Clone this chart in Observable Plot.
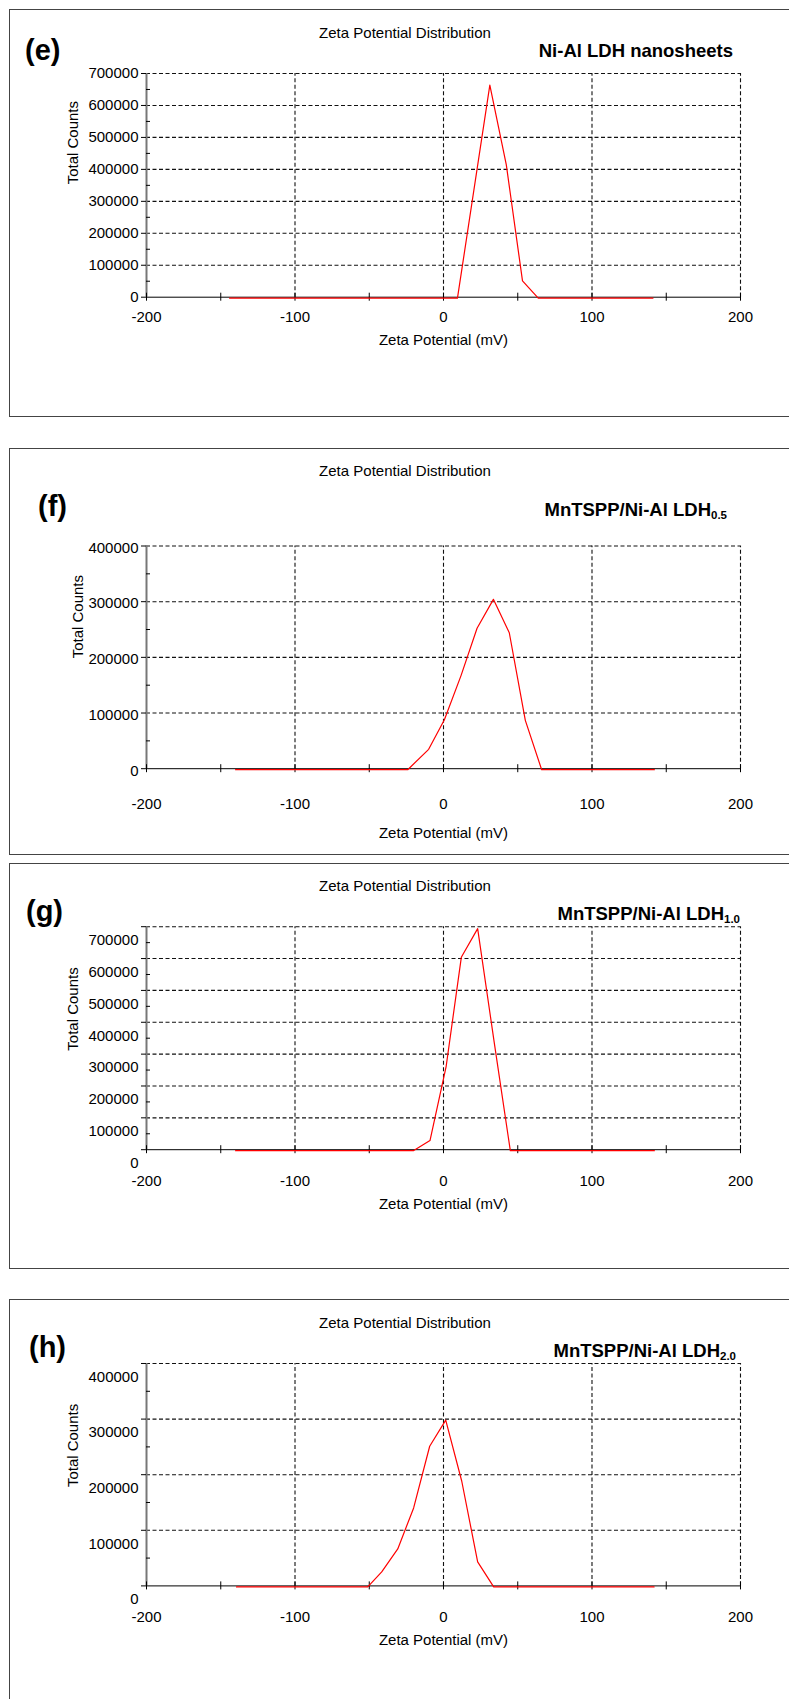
<!DOCTYPE html>
<html>
<head>
<meta charset="utf-8">
<script src="https://cdn.jsdelivr.net/npm/d3@7"></script>
<script src="https://cdn.jsdelivr.net/npm/@observablehq/plot@0.6"></script>
<style>
  body { margin: 0; background: #fff; }
  #page { position: relative; width: 789px; height: 1699px; overflow: hidden; background: #fff;
          font-family: "Liberation Sans", Arial, Helvetica, sans-serif; color: #000; }
  .chart { position: absolute; left: 0; }
  .frame { position: absolute; left: 9px; width: 820px; border: 1.5px solid #444; box-sizing: border-box; pointer-events: none; }
  .t { position: absolute; white-space: nowrap; line-height: 1; }
  .title { font-size: 15px; transform: translate(-50%, -50%); }
  .letter { font-size: 29px; font-weight: bold; transform: translateY(-50%); }
  .series { font-size: 18.5px; font-weight: bold; transform: translateY(-50%); text-align: right; }
  .series sub { font-size: 11.5px; vertical-align: -3px; line-height: 0; }
</style>
</head>
<body>
<div id="page"></div>
<script>
// ---------------- data ----------------
const xTicks = [-200, -100, 0, 100, 200];
const xMinorTicks = [-150, -50, 50, 150];
const xGrid = [-100, 0, 100, 200];

// (e) Ni-Al LDH nanosheets
const eX = [-144, 9.4, 31.2, 42.3, 53.2, 63.8, 141];
const eY = [0, 0, 667000, 417000, 54000, 0, 0];
const eYTicks = [0, 100000, 200000, 300000, 400000, 500000, 600000, 700000];

// (f) MnTSPP/Ni-Al LDH0.5
const fX = [-140, -24.1, -10.0, 0.6, 11.8, 22.6, 33.6, 44.3, 55.1, 66.1, 142];
const fY = [0, 0, 36600, 89800, 169000, 254000, 306000, 246000, 88700, 0, 0];
const fYTicks = [0, 100000, 200000, 300000, 400000];

// (g) MnTSPP/Ni-Al LDH1.0
const gX = [-140, -20.3, -9.1, 1.8, 12.0, 23.0, 34.0, 45.0, 142];
const gY = [0, 0, 32000, 265000, 607000, 697000, 345000, 0, 0];
const gYTicks = [0, 100000, 200000, 300000, 400000, 500000, 600000, 700000];

// (h) MnTSPP/Ni-Al LDH2.0
const hX = [-139.4, -51.0, -41.6, -30.8, -20.1, -9.3, 1.5, 12.3, 23.0, 33.8, 141.8];
const hY = [0, 0, 27000, 68300, 142000, 253000, 300000, 190000, 45000, 0, 0];
const hYTicks = [0, 100000, 200000, 300000, 400000];

const titleText = "Zeta Potential Distribution";
const xLabelText = "Zeta Potential (mV)";
const yLabelText = "Total Counts";

// ---------------- layout (page pixels) ----------------
const panels = [
  { letter: "(e)", name: "Ni-Al LDH nanosheets", sub: "", X: eX, Y: eY, yTicks: eYTicks,
    frameTop: 9, frameBottom: 417, plotTop: 73, axisY: 296.7, xPad: 14, xTitleY: 340,
    yDy: 0, yTitleX: 73, titleY: 32, letterX: 25, letterY: 50, nameY: 51, nameRight: 733 },
  { letter: "(f)", name: "MnTSPP/Ni-Al LDH", sub: "0.5", X: fX, Y: fY, yTicks: fYTicks,
    frameTop: 447.5, frameBottom: 854.5, plotTop: 545, axisY: 767.7, xPad: 30, xTitleY: 832,
    yDy: 2, yTitleX: 78, titleY: 470, letterX: 38, letterY: 506, nameY: 510, nameRight: 727 },
  { letter: "(g)", name: "MnTSPP/Ni-Al LDH", sub: "1.0", X: gX, Y: gY, yTicks: gYTicks,
    frameTop: 862.5, frameBottom: 1268.5, plotTop: 925.7, axisY: 1148.7, xPad: 25.3, xTitleY: 1202.7,
    yDy: 13.5, yTitleX: 72.5, titleY: 885, letterX: 26, letterY: 911, nameY: 913.5, nameRight: 740 },
  { letter: "(h)", name: "MnTSPP/Ni-Al LDH", sub: "2.0", X: hX, Y: hY, yTicks: hYTicks,
    frameTop: 1299.3, frameBottom: 1760, plotTop: 1363.3, axisY: 1585.7, xPad: 25.7, xTitleY: 1640,
    yDy: 13.4, yTitleX: 73, titleY: 1321.7, letterX: 29, letterY: 1347, nameY: 1351, nameRight: 736 }
];

const page = document.getElementById("page");
const W = 789, mL = 146, mR = 49;
const gridStroke = "#111", dash = "4,2.5";

for (const p of panels) {
  const svgTop = p.frameTop;
  const svgBottom = Math.min(p.frameBottom, 1699);
  const H = svgBottom - svgTop;
  const yTop = p.yTicks[p.yTicks.length - 1];
  const yMinor = p.yTicks.slice(1).map(v => v - (p.yTicks[1] - p.yTicks[0]) / 2);
  const data = p.X.map((x, i) => ({ x, y: p.Y[i] }));

  const chart = Plot.plot({
    width: W,
    height: H,
    marginLeft: mL,
    marginRight: mR,
    marginTop: p.plotTop - svgTop,
    marginBottom: svgBottom - p.axisY,
    style: { background: "transparent", fontFamily: '"Liberation Sans", Arial, sans-serif', fontSize: "15px", color: "#000", overflow: "visible" },
    x: { domain: [-200, 200] },
    y: { domain: [0, yTop] },
    marks: [
      Plot.ruleY(p.yTicks.slice(1), { x1: -200, x2: 200, stroke: gridStroke, strokeDasharray: dash, strokeWidth: 1.1 }),
      Plot.ruleX(xGrid, { y1: 0, y2: yTop, stroke: gridStroke, strokeDasharray: dash, strokeWidth: 1.1 }),
      Plot.ruleX([-200], { y1: 0, y2: yTop, stroke: "#777", strokeWidth: 2 }),
      Plot.ruleY([0], { x1: -200, x2: 200, stroke: "#000", strokeWidth: 1 }),
      Plot.ruleY(p.yTicks, { x1: -200, x2: -200, insetLeft: -5, stroke: "#000" }),
      Plot.ruleY(yMinor, { x1: -200, x2: -200, insetRight: -4, stroke: "#000" }),
      Plot.ruleX(xTicks.concat(xMinorTicks), { y1: 0, y2: 0, insetTop: -4, insetBottom: -4, stroke: "#000" }),
      Plot.axisY({ ticks: p.yTicks, tickSize: 0, tickPadding: 8, tickFormat: d => String(d), label: null, dy: p.yDy }),
      Plot.axisX({ ticks: xTicks, tickSize: 0, tickPadding: p.xPad, tickFormat: d => String(d), label: null }),
      Plot.text([xLabelText], { text: d => d, frameAnchor: "bottom", lineAnchor: "middle", dy: p.xTitleY - p.axisY, fontSize: 15 }),
      Plot.text([yLabelText], { text: d => d, frameAnchor: "left", lineAnchor: "middle", rotate: -90, dx: p.yTitleX - mL, dy: p.yDy - 1, fontSize: 15 }),
      Plot.line(data, { x: "x", y: "y", stroke: "#ff0000", strokeWidth: 1.2, dy: 1 })
    ]
  });
  chart.classList.add("chart");
  chart.style.top = svgTop + "px";
  chart.style.position = "absolute";
  page.appendChild(chart);

  const frame = document.createElement("div");
  frame.className = "frame";
  frame.style.top = p.frameTop + "px";
  frame.style.height = (p.frameBottom - p.frameTop) + "px";
  page.appendChild(frame);

  const t = document.createElement("div");
  t.className = "t title";
  t.style.left = "405px";
  t.style.top = p.titleY + "px";
  t.textContent = titleText;
  page.appendChild(t);

  const l = document.createElement("div");
  l.className = "t letter";
  l.style.left = p.letterX + "px";
  l.style.top = p.letterY + "px";
  l.textContent = p.letter;
  page.appendChild(l);

  const n = document.createElement("div");
  n.className = "t series";
  n.style.right = (W - p.nameRight) + "px";
  n.style.top = p.nameY + "px";
  n.textContent = p.name;
  if (p.sub) {
    const s = document.createElement("sub");
    s.textContent = p.sub;
    n.appendChild(s);
  }
  page.appendChild(n);
}
</script>
</body>
</html>
